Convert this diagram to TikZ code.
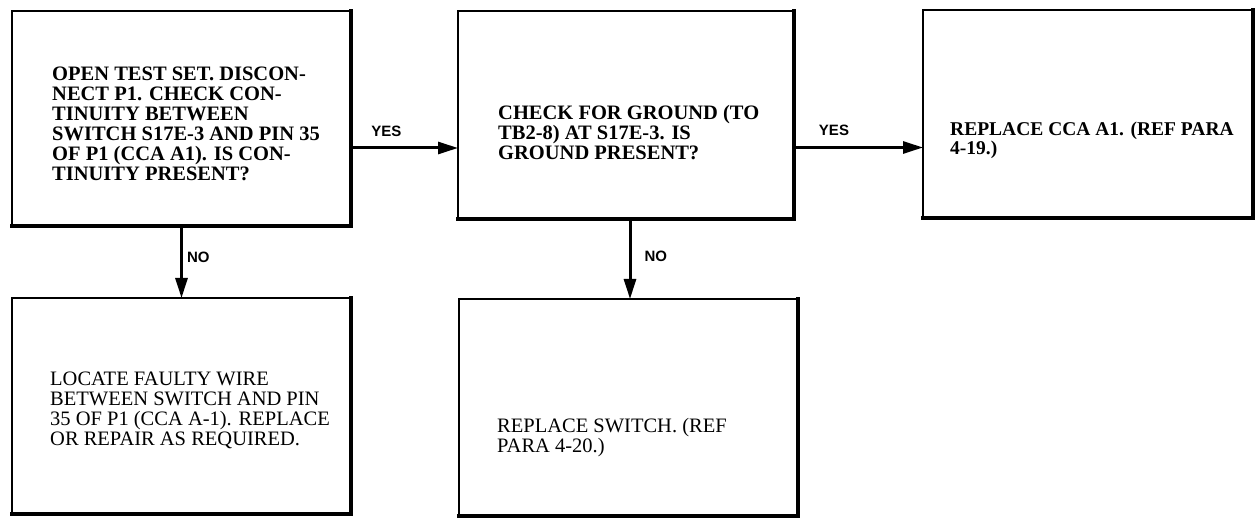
\documentclass[tikz,border=0pt]{standalone}
\usepackage{fontspec}
\setmainfont{Liberation Serif}
\newfontfamily\lsans{Liberation Sans}
\usetikzlibrary{arrows.meta}
\begin{document}
\begin{tikzpicture}[x=1bp,y=-1bp,
  box/.style={draw=black,line width=2.6bp,inner sep=0pt,outer sep=0pt,rectangle},
  heavy/.style={draw=black,line width=4.8bp,line cap=rect},
  btext/.style={align=left,inner sep=0pt,anchor=base west,font=\fontsize{20.5bp}{20bp}\selectfont\bfseries},
  rtext/.style={align=left,inner sep=0pt,anchor=base west,font=\fontsize{20.5bp}{20bp}\selectfont},
  lbl/.style={inner sep=0pt,font=\lsans\bfseries\fontsize{15bp}{15bp}\selectfont},
  arr/.style={draw=black,line width=3bp,-{Triangle[length=20bp,width=12bp]}}
]
\useasboundingbox (0,0) rectangle (1256,521);
% boxes
\node[box,minimum width=339bp,minimum height=215bp] (b1) at (181.5,118.5) {};
\node[box,minimum width=336bp,minimum height=208bp] (b2) at (626,115) {};
\node[box,minimum width=330bp,minimum height=208bp] (b3) at (1088,114) {};
\node[box,minimum width=339bp,minimum height=216bp] (b4) at (181.5,406) {};
\node[box,minimum width=339bp,minimum height=217bp] (b5) at (628.5,407.5) {};
\foreach \b in {b1,b2,b3,b4,b5}
  \draw[heavy] (\b.north east) -- (\b.south east) -- (\b.south west);
% texts (anchored at the baseline of their last line)
\node[btext] (t1) at (52,181) {OPEN TEST SET. DISCON-\\NECT P1. CHECK CON-\\TINUITY BETWEEN\\SWITCH S17E-3 AND PIN 35\\OF P1 (CCA A1). IS CON-\\TINUITY PRESENT?};
\node[btext] (t2) at (498,160) {CHECK FOR GROUND (TO\\TB2-8) AT S17E-3. IS\\GROUND PRESENT?};
\node[btext,font=\fontsize{19.5bp}{19.5bp}\selectfont\bfseries] (t3) at (950,155) {REPLACE CCA A1. (REF PARA\\4-19.)};
\node[rtext] (t4) at (50,445) {LOCATE FAULTY WIRE\\BETWEEN SWITCH AND PIN\\35 OF P1 (CCA A-1). REPLACE\\OR REPAIR AS REQUIRED.};
\node[rtext] (t5) at (497,452) {REPLACE SWITCH. (REF\\PARA 4-20.)};
% connectors
\coordinate (y1s) at ([yshift=-29.5bp]b1.east);
\draw[arr] (y1s) -- node[lbl,pos=0.33,above=10bp] (l1) {YES} (y1s -| b2.west);
\coordinate (y2s) at ([yshift=-32.5bp]b2.east);
\draw[arr] (y2s) -- node[lbl,pos=0.31,above=10bp] (l2) {YES} (y2s -| b3.west);
\draw[arr] (b1.south) -- node[lbl,pos=0.43,right=4bp] (l3) {NO} (b4.north);
\coordinate (n2s) at (b2.south -| b5.north);
\draw[arr] ([xshift=1.5bp]n2s) -- node[lbl,pos=0.47,right=13bp] (l4) {NO} ([xshift=1.5bp]b5.north);
\end{tikzpicture}
\end{document}
